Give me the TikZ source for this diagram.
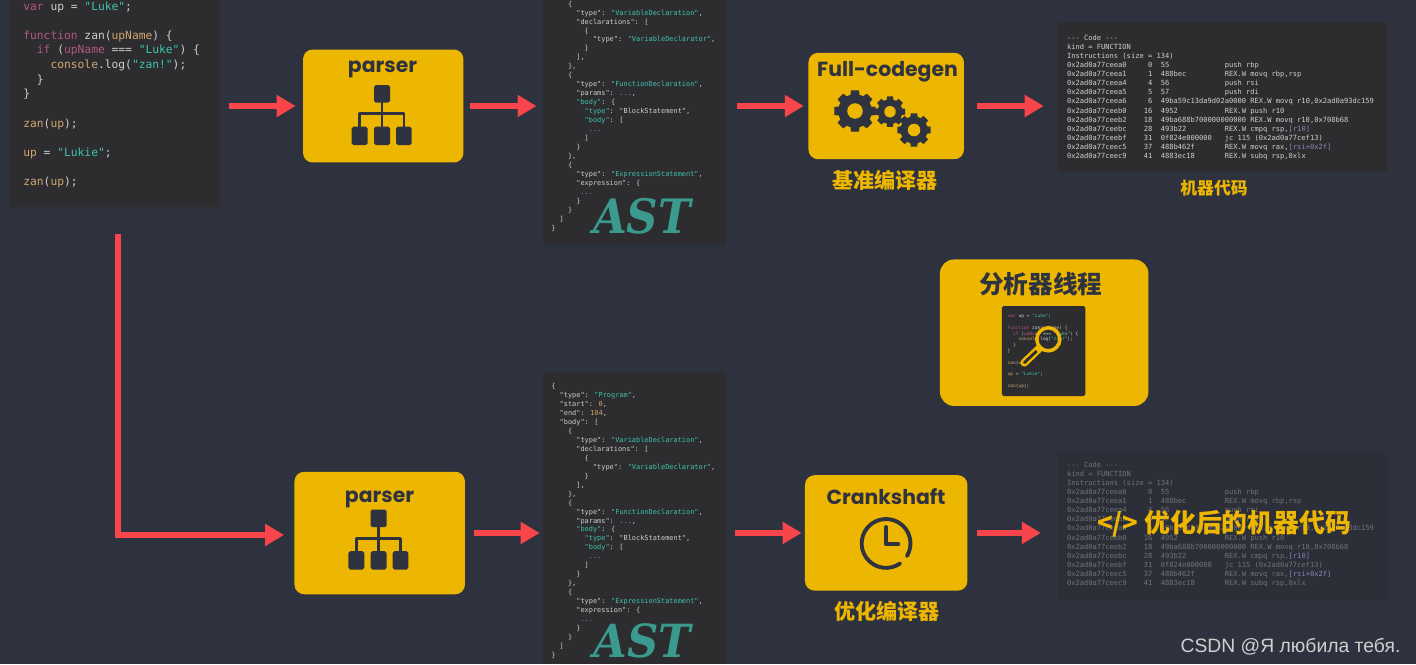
\documentclass[tikz,border=0pt]{standalone}
\usepackage{fontspec}
\usetikzlibrary{arrows.meta}
\newfontfamily\codefont{DejaVu Sans Mono}
\newfontfamily\titlefont{Poppins}
\newfontfamily\cjkfont{Noto Sans CJK SC}
\newfontfamily\astfont{DejaVu Serif}
\newfontfamily\markfont{Liberation Sans}

\definecolor{fondo}{HTML}{2E323E}
\definecolor{panel}{HTML}{2D2D30}
\definecolor{panelB}{HTML}{2C2E38}
\definecolor{amarillo}{HTML}{EDB600}
\definecolor{tinta}{HTML}{2F333F}
\definecolor{rojo}{HTML}{F8454C}
\definecolor{verde}{HTML}{3A9A8D}
\definecolor{cKw}{HTML}{B4587C}
\definecolor{cStr}{HTML}{3EC4AE}
\definecolor{cVar}{HTML}{D3A66E}
\definecolor{cTxt}{HTML}{CFCFCF}
\definecolor{cMem}{HTML}{8F83B8}

\newcommand{\kw}[1]{\textcolor{cKw}{#1}}
\newcommand{\st}[1]{\textcolor{cStr}{#1}}
\newcommand{\vr}[1]{\textcolor{cVar}{#1}}
\newcommand{\mem}[1]{\textcolor{cMem}{#1}}
% una linea de codigo maquina
\newcommand{\mc}[5][9.03em]{\makebox[8.428em][l]{#2}\makebox[3.612em][r]{#3}\hspace{1.204em}\makebox[#1][l]{#4}#5}

\newcommand{\srccode}{\kw{var} up = \st{"Luke"};\\
~\\
\kw{function} zan(\vr{upName}) \{\\
\hspace*{1.204em}\kw{if} (\kw{upName} === \st{"Luke"}) \{\\
\hspace*{2.408em}\vr{console}.log(\st{"zan!"});\\
\hspace*{1.204em}\}\\
\}\\
~\\
\vr{zan}(\vr{up});\\
~\\
\vr{up} = \st{"Lukie"};\\
~\\
\vr{zan}(\vr{up});}

\newcommand{\astbody}{\hspace*{2.408em}\{\\
\hspace*{3.612em}"type": \st{"VariableDeclaration"},\\
\hspace*{3.612em}"declarations": [\\
\hspace*{4.816em}\{\\
\hspace*{6.02em}"type": \st{"VariableDeclarator"},\\
\hspace*{4.816em}\}\\
\hspace*{3.612em}],\\
\hspace*{2.408em}\},\\
\hspace*{2.408em}\{\\
\hspace*{3.612em}"type": \st{"FunctionDeclaration"},\\
\hspace*{3.612em}"params": \mem{...},\\
\hspace*{3.612em}\st{"body"}: \{\\
\hspace*{4.816em}\st{"type"}: "BlockStatement",\\
\hspace*{4.816em}\st{"body"}: [\\
\hspace*{5.418em}\mem{...}\\
\hspace*{4.816em}]\\
\hspace*{3.612em}\}\\
\hspace*{2.408em}\},\\
\hspace*{2.408em}\{\\
\hspace*{3.612em}"type": \st{"ExpressionStatement"},\\
\hspace*{3.612em}"expression": \{\\
\hspace*{4.214em}\mem{...}\\
\hspace*{3.612em}\}\\
\hspace*{2.408em}\}\\
\hspace*{1.204em}]\\
\}}

\newcommand{\machinecode}{--- Code ---\\
kind = FUNCTION\\
Instructions (size = 134)\\
\mc{0x2ad0a77ceea0}{0}{55}{push rbp}\\
\mc{0x2ad0a77ceea1}{1}{488bec}{REX.W movq rbp,rsp}\\
\mc{0x2ad0a77ceea4}{4}{56}{push rsi}\\
\mc{0x2ad0a77ceea5}{5}{57}{push rdi}\\
\mc[12.642em]{0x2ad0a77ceea6}{6}{49ba59c13da9d02a0000}{REX.W movq r10,0x2ad0a93dc159}\\
\mc{0x2ad0a77ceeb0}{16}{4952}{REX.W push r10}\\
\mc[12.642em]{0x2ad0a77ceeb2}{18}{49ba688b700000000000}{REX.W movq r10,0x708b68}\\
\mc{0x2ad0a77ceebc}{28}{493b22}{REX.W cmpq rsp,\mem{[r10]}}\\
\mc{0x2ad0a77ceebf}{31}{0f824e000000}{jc 115  (0x2ad0a77cef13)}\\
\mc{0x2ad0a77ceec5}{37}{488b462f}{REX.W movq rax,\mem{[rsi+0x2f]}}\\
\mc{0x2ad0a77ceec9}{41}{4883ec18}{REX.W subq rsp,0xlx}}

\tikzset{
  stagebox/.style={fill=amarillo, rounded corners=5.5pt, inner sep=0pt},
  panelbox/.style={fill=panel, inner sep=0pt},
  codetext/.style={anchor=north west, inner sep=0pt, align=left, text=cTxt},
  titletext/.style={text=tinta, inner sep=0pt, font=\titlefont\bfseries\fontsize{11.6}{14}\selectfont},
  cnlabel/.style={text=amarillo, inner sep=0pt},
  flow/.style={draw=rojo, line width=3.5pt, -{Triangle[length=10.8pt,width=12pt]}},
  treeicon/.pic={
    \fill[tinta, rounded corners=1pt] (-8,-30) rectangle (8,-12.3);
    \fill[tinta, rounded corners=1pt] (-30.3,11.7) rectangle (-14.3,30);
    \fill[tinta, rounded corners=1pt] (-8,11.7) rectangle (8,30);
    \fill[tinta, rounded corners=1pt] (14,11.7) rectangle (29.7,30);
    \draw[tinta, line width=1.7pt, line join=round] (-22.3,12) -- (-22.3,-1.5) -- (22,-1.5) -- (22,12);
    \draw[tinta, line width=1.7pt] (0,-13) -- (0,12);
  },
  gearicon/.pic={
    \fill[tinta] (0,0) circle[radius=.8*#1];
    \foreach \a in {0,45,...,315}
      \fill[tinta] ({\a-17}:{.75*#1}) -- ({\a-11}:#1) -- ({\a+11}:#1) -- ({\a+17}:{.75*#1}) -- cycle;
    \fill[amarillo] (0,0) circle[radius=.37*#1];
  },
}

\begin{document}
\begin{tikzpicture}[x=0.02cm, y=-0.02cm]
  \fill[fondo] (0,0) rectangle (1416,664);
  \useasboundingbox (0,0) rectangle (1416,664);

  % Paneles de codigo
  \node[panelbox, minimum width=4.2cm, minimum height=4.14cm] (codeA) at (115,103.5) {};
  \node[panelbox, minimum width=3.66cm, minimum height=4.9cm] (astA) at (634.5,122.5) {};
  \node[panelbox, minimum width=3.66cm, minimum height=5.84cm] (astB) at (634.5,518) {};
  \node[panelbox, minimum width=6.57cm, minimum height=3cm] (mcA) at (1222.3,97) {};
  \node[panelbox, fill=panelB, minimum width=6.57cm, minimum height=2.96cm] (mcB) at (1222.3,526) {};

  \node[codetext, font=\codefont\fontsize{6.42}{8.32}\selectfont] (codeAtext) at (23,1.2) {\srccode};
  \node[codetext, font=\codefont\fontsize{3.94}{5.1}\selectfont] (astAtext) at (551,0.5) {\astbody};
  \node[codetext, font=\codefont\fontsize{3.94}{5.1}\selectfont] (astBtext) at (551,383) {\{\\
\hspace*{1.204em}"type": \st{"Program"},\\
\hspace*{1.204em}"start": \vr{0},\\
\hspace*{1.204em}"end": \vr{104},\\
\hspace*{1.204em}"body": [\\
\astbody};
  \node[codetext, font=\codefont\fontsize{4.03}{5.18}\selectfont] (mcAtext) at (1066.7,34.5) {\machinecode};
  \node[codetext, text=cTxt!42!fondo, font=\codefont\fontsize{4.03}{5.18}\selectfont] (mcBtext) at (1066.7,461.5) {\machinecode};

  % Etiquetas AST
  \node[text=verde, inner sep=0pt, xscale=.92, font=\astfont\bfseries\itshape\fontsize{27}{30}\selectfont] (astAlabel) at (642,216) {AST};
  \node[text=verde, inner sep=0pt, xscale=.95, font=\astfont\bfseries\itshape\fontsize{26}{29}\selectfont] (astBlabel) at (642,641) {AST};

  % Cajas amarillas
  \node[stagebox, minimum width=3.21cm, minimum height=2.26cm] (parserA) at (383.25,106) {};
  \node[stagebox, minimum width=3.41cm, minimum height=2.45cm] (parserB) at (379.7,533) {};
  \node[stagebox, minimum width=3.11cm, minimum height=2.13cm] (fullcode) at (886.2,106) {};
  \node[stagebox, minimum width=3.25cm, minimum height=2.31cm] (crank) at (886.2,532.9) {};
  \node[stagebox, rounded corners=8pt, minimum width=4.17cm, minimum height=2.93cm] (analyzer) at (1044.2,332.7) {};

  \node[titletext] (parserAtitle) at (382.5,69) {parser};
  \node[titletext] (parserBtitle) at (379.5,499) {parser};
  \node[titletext] (fullcodetitle) at (887.5,72) {Full-codegen};
  \node[titletext] (cranktitle) at (886,497) {Crankshaft};
  \node[text=tinta, inner sep=0pt, font=\cjkfont\bfseries\fontsize{14}{16}\selectfont] (analyzertitle) at (1040.7,284.3) {分析器线程};

  % Iconos
  \pic at (382,115) {treeicon};
  \pic at (378.7,539.5) {treeicon};
  \pic at (855,111) {gearicon=21};
  \pic at (890,111.7) {gearicon=15.5};
  \pic at (914,130) {gearicon=17};
  \coordinate (clockstart) at (907,556);
  \draw[tinta, line width=2.2pt, line cap=round] (clockstart) arc[start angle=-31, end angle=305, radius=13.9pt];
  \draw[tinta, line width=2.2pt, line cap=round, line join=round] (886,527) -- (886,544.3) -- (898.3,544.3);

  % Miniatura del analizador
  \node[panelbox, rounded corners=1pt, minimum width=1.67cm, minimum height=1.8cm] (mini) at (1043.7,351) {};
  \node[codetext, font=\codefont\fontsize{2.57}{3.29}\selectfont] (minitext) at (1007.3,314) {\srccode};
  \node[draw=amarillo, line width=2pt, circle, minimum size=0.46cm, inner sep=0pt] (lens) at (1048.3,339.3) {};
  \coordinate (handleend) at (1024.3,362.7);
  \draw[amarillo, line width=4.4pt, line cap=round] (lens.-135) -- (handleend);
  \draw[panel, line width=1.6pt, line cap=round] ([xshift=-1.6pt,yshift=-1.6pt]lens.-135) -- (handleend);

  % Rotulos
  \node[cnlabel, font=\cjkfont\bfseries\fontsize{12}{14}\selectfont] (fullcodelabel) at (885,180.7) {基准编译器};
  \node[cnlabel, font=\cjkfont\bfseries\fontsize{9.6}{12}\selectfont] (mcAlabel) at (1214,188) {机器代码};
  \node[cnlabel, font=\cjkfont\bfseries\fontsize{12}{14}\selectfont] (cranklabel) at (887,611.7) {优化编译器};
  \node[cnlabel, font=\cjkfont\bfseries\fontsize{14.7}{17}\selectfont] (mcBlabel) at (1224,524) {</> 优化后的机器代码};
  \node[text=cTxt, inner sep=0pt, font=\markfont\fontsize{11}{13}\selectfont] (mark) at (1290.5,646.7) {CSDN @Я любила тебя.};

  % Flechas
  \draw[flow, shorten <=5pt, shorten >=4pt] (codeA.east |- parserA.west) -- (parserA.west);
  \draw[flow, shorten <=3.7pt, shorten >=3.5pt] (parserA.east) -- (astA.west |- parserA.east);
  \draw[flow, shorten <=6.2pt, shorten >=2.5pt] (astA.east |- fullcode.west) -- (fullcode.west);
  \draw[flow, shorten <=7.4pt, shorten >=8pt] (fullcode.east) -- (mcA.west |- fullcode.east);
  \coordinate (elbowstart) at (118,234);
  \draw[flow, line width=3pt, shorten >=5.7pt] (elbowstart) |- ([yshift=-1.1pt]parserB.west);
  \draw[flow, shorten <=5pt, shorten >=1.7pt] (parserB.east) -- (astB.west |- parserB.east);
  \draw[flow, shorten <=5pt, shorten >=1.7pt] (astB.east |- crank.west) -- (crank.west);
  \draw[flow, shorten <=5.5pt, shorten >=9.6pt] (crank.east) -- (mcB.west |- crank.east);
\end{tikzpicture}
\end{document}
